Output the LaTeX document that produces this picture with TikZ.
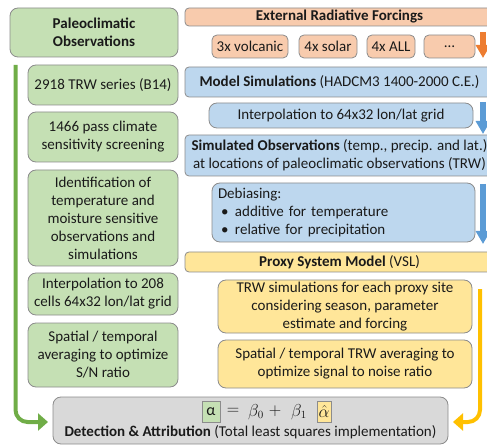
\documentclass[tikz,border=0pt]{standalone}
\usepackage{fontspec}
\setmainfont{Carlito}
\usetikzlibrary{arrows.meta}
\definecolor{gfill}{HTML}{C5E0B4}
\definecolor{ofill}{HTML}{F8CBAD}
\definecolor{bfill}{HTML}{BDD7EE}
\definecolor{yfill}{HTML}{FFE699}
\definecolor{grfill}{HTML}{D9D9D9}
\definecolor{edge}{HTML}{8C8C8C}
\definecolor{garrowc}{HTML}{70AD47}
\definecolor{oarrowc}{HTML}{ED7D31}
\definecolor{barrowc}{HTML}{5B9BD5}
\definecolor{yarrowc}{HTML}{FFC000}
\definecolor{txt}{HTML}{1A1A1A}
\tikzset{
  box/.style={draw=edge, line width=0.8pt, rounded corners=8pt, align=center, inner sep=0pt, text=txt},
  widebox/.style={box, rounded corners=4pt},
  gbox/.style={box, fill=gfill},
  obox/.style={box, fill=ofill, rounded corners=5pt},
  bbox/.style={box, fill=bfill},
  ybox/.style={box, fill=yfill},
  eqbox/.style={draw=edge, line width=0.8pt, inner sep=0pt, text=txt, minimum height=21pt, font=\fontsize{16}{18}\selectfont},
  eqtext/.style={inner sep=0pt, text=txt, font=\fontsize{16}{18}\selectfont},
  linearrow/.style={line width=4pt, rounded corners=12pt, -{Triangle[width=17pt,length=10pt]}},
  blockarrow/.style={line width=6pt, -{Triangle[width=14pt,length=13pt]}},
}
\begin{document}
\begin{tikzpicture}[x=1pt,y=-1pt, font=\fontsize{15}{18}\selectfont]
\useasboundingbox (0,0) rectangle (487,446);
\clip (0,0) rectangle (487,446);

% green column
\node[gbox, minimum width=168pt, minimum height=49pt, font=\fontsize{15}{18}\selectfont\bfseries] (paleo) at (94,32.5) {Paleoclimatic\\Observations};
\node[gbox, minimum width=150pt, minimum height=40pt] (g1) at (103,85) {2918 TRW series (B14)};
\node[gbox, minimum width=150pt, minimum height=50pt] (g2) at (103,137) {1466 pass climate\\sensitivity screening};
\node[gbox, minimum width=150pt, minimum height=96pt] (g3) at (103,218) {Identification of\\temperature and\\moisture sensitive\\observations and\\simulations};
\node[gbox, minimum width=150pt, minimum height=42pt] (g4) at (103,294) {Interpolation to 208\\cells 64x32 lon/lat grid};
\node[gbox, minimum width=150pt, minimum height=64pt] (g5) at (103,355) {Spatial / temporal\\averaging to optimize\\S/N ratio};

% orange
\node[widebox, fill=ofill, minimum width=309pt, minimum height=18pt, font=\fontsize{15}{18}\selectfont\bfseries] (ext) at (339.5,17) {External Radiative Forcings};
\node[obox, minimum width=76pt, minimum height=23pt] (o1) at (250,46.5) {3x volcanic};
\node[obox, minimum width=58pt, minimum height=23pt] (o2) at (328,46.5) {4x solar};
\node[obox, minimum width=48pt, minimum height=23pt] (o3) at (391,46.5) {4x ALL};
\node[obox, minimum width=51pt, minimum height=23pt] (o4) at (449.5,46.5) {\dots};

% blue
\node[widebox, fill=bfill, minimum width=309pt, minimum height=30pt] (model) at (339.5,82) {\textbf{Model Simulations} (HADCM3 1400-2000 C.E.)};
\node[bbox, minimum width=264pt, minimum height=25pt] (interp) at (341,115.5) {Interpolation to 64x32 lon/lat grid};
\node[widebox, fill=bfill, minimum width=309pt, minimum height=41pt] (simobs) at (339.5,155.5) {\textbf{Simulated Observations} (temp., precip. and lat.)\\at locations of paleoclimatic observations (TRW)};
\node[bbox, minimum width=263pt, minimum height=59pt, text width=251pt, align=left, inner xsep=6pt] (debias) at (343.5,212.5) {Debiasing:\\\makebox[17pt][l]{\hspace{3pt}•}additive for temperature\\\makebox[17pt][l]{\hspace{3pt}•}relative for precipitation};

% yellow
\node[widebox, fill=yfill, minimum width=309pt, minimum height=20pt] (psm) at (339.5,262) {\textbf{Proxy System Model} (VSL)};
\node[ybox, minimum width=254pt, minimum height=53pt] (trw) at (345,306.5) {TRW simulations for each proxy site\\considering season, parameter\\estimate and forcing};
\node[ybox, minimum width=254pt, minimum height=48pt] (spat) at (345,364) {Spatial / temporal TRW averaging to\\optimize signal to noise ratio};

% gray
\node[box, fill=grfill, minimum width=395pt, minimum height=47pt] (da) at (250.5,420.5) {};
\node[eqbox, fill=gfill, minimum width=18pt] (alpha) at (211,411.5) {α};
\node[eqtext] (eqsign) at (233,411.5) {$=$};
\node[eqtext] (beta0) at (256,412) {$\beta_0$};
\node[eqtext] (plus) at (275,411.5) {$+$};
\node[eqtext] (beta1) at (299,412) {$\beta_1$};
\node[eqbox, fill=yfill, minimum width=14pt] (alphahat) at (324,411.5) {$\hat\alpha$};
\node[text=txt, inner sep=0pt] (datext) at (250.5,432.5) {\textbf{Detection \& Attribution} (Total least squares implementation)};

% arrows
\coordinate (gs) at (15.5,65);
\coordinate (ge) at (48,422);
\draw[linearrow, garrowc] (gs) |- (ge);
\coordinate (ys) at (480,289);
\coordinate (ye) at (453,422);
\draw[linearrow, yarrowc] (ys) |- (ye);

\coordinate (oa1) at (483,32);
\coordinate (oa2) at (483,58);
\draw[blockarrow, oarrowc] (oa1) -- (oa2);
\coordinate (ba1) at (483,102);
\coordinate (ba2) at (483,134);
\draw[blockarrow, barrowc] (ba1) -- (ba2);
\coordinate (bb1) at (483,184);
\coordinate (bb2) at (483,244);
\draw[blockarrow, barrowc] (bb1) -- (bb2);
\end{tikzpicture}
\end{document}
